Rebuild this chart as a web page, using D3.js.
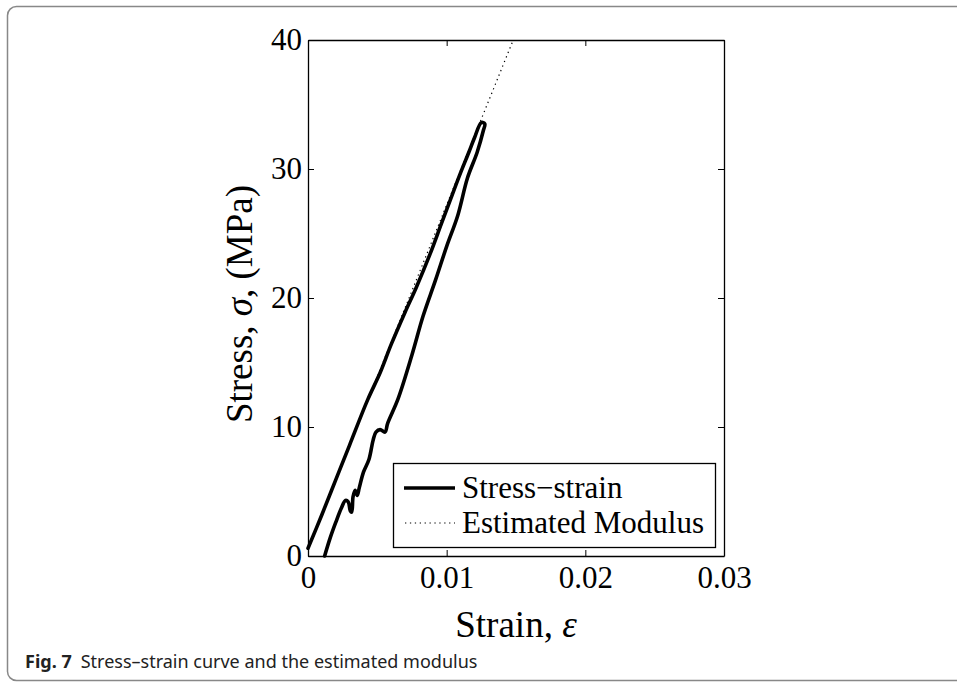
<!DOCTYPE html>
<html>
<head>
<meta charset="utf-8">
<script src="https://cdn.jsdelivr.net/npm/d3@7"></script>
<style>
  body { margin: 0; background: #fff; }
  svg { display: block; }
</style>
</head>
<body>
<div id="chart"></div>
<script>
// stress-strain loop (loading along lower branch, unloading along upper branch)
const strain = [0.00120, 0.00160, 0.00200, 0.00240, 0.00270, 0.00290, 0.00305, 0.00315, 0.00325, 0.00340,
  0.00355, 0.00370, 0.00400, 0.00440, 0.00470, 0.00490, 0.00520, 0.00555, 0.00575, 0.00650,
  0.00750, 0.00830, 0.00920, 0.01000, 0.01080, 0.01150, 0.01220, 0.01265, 0.01275,
  0.01250, 0.01200, 0.01160, 0.01100, 0.01040, 0.00960, 0.00880, 0.00780, 0.00700, 0.00600,
  0.00520, 0.00430, 0.00300, 0.00200, 0.00100, 0.00000];
const stress = [0.0, 1.4, 2.6, 3.7, 4.3, 4.2, 3.5, 3.4, 4.6, 5.1,
  4.7, 5.3, 6.5, 7.5, 9.0, 9.6, 9.8, 9.6, 10.3, 12.2,
  15.6, 18.6, 21.4, 24.0, 26.4, 29.3, 31.3, 33.0, 33.5,
  33.6, 32.4, 31.3, 29.7, 28.0, 25.7, 23.4, 20.8, 18.9, 16.4,
  14.2, 12.1, 8.6, 5.9, 3.2, 0.6];

// estimated modulus line
const modulusStrain = [0, 0.0148];
const modulusStress = [0.6, 40];

const xTicks = [0, 0.01, 0.02, 0.03];
const xTickLabels = ["0", "0.01", "0.02", "0.03"];
const yTicks = [0, 10, 20, 30, 40];
const yTickLabels = ["0", "10", "20", "30", "40"];
const legendLabels = ["Stress\u2212strain", "Estimated Modulus"];

const WIDTH = 957, HEIGHT = 682;
const PLOT = { left: 308, right: 724, top: 40, bottom: 556 };
const SERIF = "'Liberation Serif', 'Times New Roman', serif";

const svg = d3.select("#chart").append("svg")
  .attr("width", WIDTH)
  .attr("height", HEIGHT);

// figure frame
svg.append("rect")
  .attr("x", 7.5).attr("y", 6.5)
  .attr("width", 1000).attr("height", 674)
  .attr("rx", 9).attr("ry", 9)
  .attr("fill", "none")
  .attr("stroke", "#888")
  .attr("stroke-width", 1.5);

const x = d3.scaleLinear().domain([0, 0.03]).range([PLOT.left, PLOT.right]);
const y = d3.scaleLinear().domain([0, 40]).range([PLOT.bottom, PLOT.top]);

// axes (matlab style: ticks inside, box on)
function styleAxis(g) {
  g.selectAll("path.domain").attr("stroke", "#000").attr("stroke-width", 1.3);
  g.selectAll(".tick line").attr("stroke", "#000").attr("stroke-width", 1);
  g.selectAll(".tick text")
    .attr("fill", "#000")
    .style("font-family", SERIF)
    .style("font-size", "31px");
}

svg.append("g")
  .attr("transform", `translate(0,${PLOT.bottom})`)
  .call(d3.axisBottom(x).tickValues(xTicks).tickFormat((d, i) => xTickLabels[i])
    .tickSizeInner(-6).tickSizeOuter(0).tickPadding(10))
  .call(styleAxis);

svg.append("g")
  .attr("transform", `translate(0,${PLOT.top})`)
  .call(d3.axisTop(x).tickValues(xTicks).tickFormat("")
    .tickSizeInner(-6).tickSizeOuter(0))
  .call(styleAxis);

svg.append("g")
  .attr("transform", `translate(${PLOT.left},0)`)
  .call(d3.axisLeft(y).tickValues(yTicks).tickFormat((d, i) => yTickLabels[i])
    .tickSizeInner(-6).tickSizeOuter(0).tickPadding(6))
  .call(styleAxis);

svg.append("g")
  .attr("transform", `translate(${PLOT.right},0)`)
  .call(d3.axisRight(y).tickValues(yTicks).tickFormat("")
    .tickSizeInner(-6).tickSizeOuter(0))
  .call(styleAxis);

// estimated modulus (dotted)
const line = d3.line().x(d => x(d[0])).y(d => y(d[1]));

svg.append("path")
  .datum(d3.zip(modulusStrain, modulusStress))
  .attr("d", line)
  .attr("fill", "none")
  .attr("stroke", "#000")
  .attr("stroke-width", 1.2)
  .attr("stroke-dasharray", "1.3,3.6");

// stress-strain curve
svg.append("path")
  .datum(d3.zip(strain, stress))
  .attr("d", line.curve(d3.curveCatmullRom))
  .attr("fill", "none")
  .attr("stroke", "#000")
  .attr("stroke-width", 3.6)
  .attr("stroke-linejoin", "round")
  .attr("stroke-linecap", "round");

// axis labels
svg.append("text")
  .attr("x", (PLOT.left + PLOT.right) / 2)
  .attr("y", 637)
  .attr("text-anchor", "middle")
  .style("font-family", SERIF)
  .style("font-size", "37px")
  .call(t => {
    t.append("tspan").text("Strain, ");
    t.append("tspan").style("font-style", "italic").text("\u03b5");
  });

svg.append("text")
  .attr("transform", `translate(252,${(PLOT.top + PLOT.bottom) / 2 + 6}) rotate(-90)`)
  .attr("text-anchor", "middle")
  .style("font-family", SERIF)
  .style("font-size", "37px")
  .call(t => {
    t.append("tspan").text("Stress, ");
    t.append("tspan").style("font-style", "italic").text("\u03c3");
    t.append("tspan").text(", (MPa)");
  });

// legend
const legend = svg.append("g");
legend.append("rect")
  .attr("x", 393.5).attr("y", 463.5)
  .attr("width", 322).attr("height", 84)
  .attr("fill", "#fff")
  .attr("stroke", "#000")
  .attr("stroke-width", 1.3);

legend.append("line")
  .attr("x1", 404).attr("x2", 455)
  .attr("y1", 488).attr("y2", 488)
  .attr("stroke", "#000").attr("stroke-width", 3.6);

legend.append("line")
  .attr("x1", 405).attr("x2", 455)
  .attr("y1", 523).attr("y2", 523)
  .attr("stroke", "#000").attr("stroke-width", 1.2)
  .attr("stroke-dasharray", "1.3,3.6");

legend.selectAll("text.lab")
  .data(legendLabels)
  .enter().append("text")
  .attr("class", "lab")
  .attr("x", 462)
  .attr("y", (d, i) => 498 + i * 35)
  .style("font-family", SERIF)
  .style("font-size", "31px")
  .text(d => d);

// caption
svg.append("text")
  .attr("x", 25)
  .attr("y", 668)
  .style("font-family", "'Noto Sans', 'Open Sans', sans-serif")
  .style("font-size", "18px")
  .attr("fill", "#222")
  .call(t => {
    t.append("tspan").style("font-weight", "bold").text("Fig. 7");
    t.append("tspan").attr("dx", 9).text("Stress\u2013strain curve and the estimated modulus");
  });
</script>
</body>
</html>
